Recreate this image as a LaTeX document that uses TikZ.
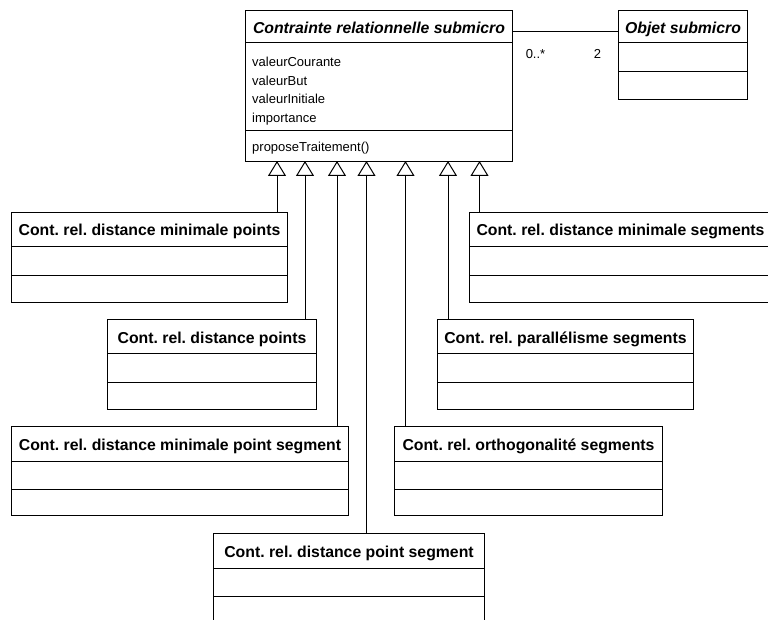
\documentclass[tikz,border=0pt]{standalone}
\usepackage{fontspec}
\setmainfont{Liberation Sans}
\usetikzlibrary{arrows.meta,calc}
\frenchspacing
\tikzset{
  umlbox/.style={draw=black, line width=1pt, fill=white, inner sep=0pt, anchor=north west},
  titlefont/.style={font=\fontsize{15.8}{19}\selectfont\bfseries, inner sep=0pt, anchor=base},
  ititlefont/.style={font=\fontsize{15.8}{19}\selectfont\bfseries\itshape, inner sep=0pt, anchor=base},
  attrfont/.style={font=\fontsize{13}{19}\selectfont, inner sep=0pt, anchor=base west},
  multfont/.style={font=\fontsize{13}{15}\selectfont, inner sep=0pt, anchor=base},
  sep/.style={draw=black, line width=1pt},
  gen/.style={draw=black, line width=1pt, -{Triangle[open, length=15pt, width=18pt, line width=1pt]}},
  assoc/.style={draw=black, line width=1pt}
}
% #1 name, #2 left, #3 top, #4 width, #5 height, #6 title, #7 sep1, #8 sep2
\newcommand\umlcls[8]{%
  \node[umlbox, minimum width=#4pt, minimum height=#5pt] (#1) at (#2,#3) {};
  \node[titlefont] (#1t) at ($(#1.north)+(0,24)$) {#6};
  \draw[sep] (#1.west |- 0,#7) -- (#1.east |- 0,#7);
  \draw[sep] (#1.west |- 0,#8) -- (#1.east |- 0,#8);
}
\begin{document}
\begin{tikzpicture}[x=1pt, y=-1pt]
\useasboundingbox (0,0) rectangle (768,620);
\clip (0,0) rectangle (768,620);
\fill[white] (0,0) rectangle (768,620);

% main class
\node[umlbox, minimum width=267pt, minimum height=151pt] (main) at (245,10) {};
\node[ititlefont] (maint) at ($(main.north)+(0,23.5)$) {Contrainte relationnelle submicro};
\draw[sep] (main.west |- 0,43) -- (main.east |- 0,43);
\draw[sep] (main.west |- 0,131) -- (main.east |- 0,131);
\node[attrfont] (a1) at (252,66.5) {valeurCourante};
\node[attrfont] (a2) at (252,85.2) {valeurBut};
\node[attrfont] (a3) at (252,103.9) {valeurInitiale};
\node[attrfont] (a4) at (252,122.6) {importance};
\node[attrfont] (ops) at (252,151.5) {proposeTraitement()};

% Objet submicro
\node[umlbox, minimum width=129pt, minimum height=89pt] (obj) at (618,10) {};
\node[ititlefont] (objt) at ($(obj.north)+(0,23.5)$) {Objet submicro};
\draw[sep] (obj.west |- 0,43) -- (obj.east |- 0,43);
\draw[sep] (obj.west |- 0,72) -- (obj.east |- 0,72);

\draw[assoc] (main.east |- 0,32) -- (obj.west |- 0,32);
\node[multfont] (m1) at (535.5,59) {0..*};
\node[multfont] (m2) at (597.5,59) {2};

% subclasses
\umlcls{b1}{11}{212}{276}{90}{Cont. rel. distance minimale points}{247}{276}
\umlcls{b2}{107}{319}{209}{90}{Cont. rel. distance points}{353}{382}
\umlcls{b3}{11}{426}{337}{89}{Cont. rel. distance minimale point segment}{461}{489}
\umlcls{b4}{213}{533}{271}{100}{Cont. rel. distance point segment}{568}{596}
\umlcls{b5}{394}{426}{268}{89}{Cont. rel. orthogonalité segments}{461}{489}
\umlcls{b6}{437}{319}{256}{90}{Cont. rel. parallélisme segments}{353}{382}
\umlcls{b7}{469}{212}{302}{90}{Cont. rel. distance minimale segments}{247}{276}

% generalisation targets on the main class bottom
\coordinate (g1) at (277,161);
\coordinate (g2) at (305,161);
\coordinate (g3) at (337,161);
\coordinate (g4) at (366.5,161);
\coordinate (g5) at (405.5,161);
\coordinate (g6) at (448,161);
\coordinate (g7) at (479.5,161);

\draw[gen] (g1 |- b1.north) -- (g1);
\draw[gen] (g2 |- b2.north) -- (g2);
\draw[gen] (g3 |- b3.north) -- (g3);
\draw[gen] (g4 |- b4.north) -- (g4);
\draw[gen] (g5 |- b5.north) -- (g5);
\draw[gen] (g6 |- b6.north) -- (g6);
\draw[gen] (g7 |- b7.north) -- (g7);
\end{tikzpicture}
\end{document}
